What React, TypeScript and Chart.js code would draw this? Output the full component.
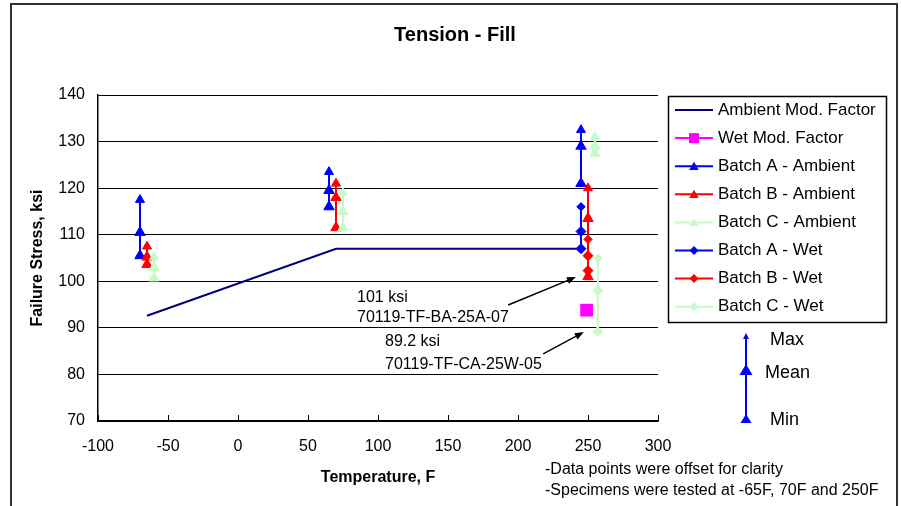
import React, { useEffect, useRef } from 'react';
import { Chart, registerables } from 'chart.js';

Chart.register(...registerables);

const FONT = '"Liberation Sans", Arial, Helvetica, sans-serif';

// ---------- data ----------
const xTicks = [-100, -50, 0, 50, 100, 150, 200, 250, 300];
const yTicks = [70, 80, 90, 100, 110, 120, 130, 140];

const ambientModX = [-65, 70, 245];
const ambientModY = [92.6, 107, 107];

const wetModX = [249];
const wetModY = [93.8];

const batchAAmbX = [-70, 65, 245];
const batchAAmbMax = [117.5, 123.5, 132.5];
const batchAAmbMean = [110.5, 119.5, 129];
const batchAAmbMin = [105.5, 116, 121];

const batchBAmbX = [-65, 70, 250];
const batchBAmbMax = [107.5, 121, 120];
const batchBAmbMean = [105.2, 118, 113.5];
const batchBAmbMin = [103.6, 111.5, 101];

const batchCAmbX = [-60, 75, 255];
const batchCAmbMax = [105.2, 119, 131];
const batchCAmbMean = [102.9, 115, 129];
const batchCAmbMin = [100.7, 111.5, 127.5];

const batchAWetX = [245];
const batchAWetMax = [116];
const batchAWetMean = [110.7];
const batchAWetMin = [107];

const batchBWetX = [250];
const batchBWetMax = [109];
const batchBWetMean = [105.5];
const batchBWetMin = [102.3];

const batchCWetX = [257];
const batchCWetMax = [105];
const batchCWetMean = [98];
const batchCWetMin = [89.2];

const seriesLabels = [
  'Ambient Mod. Factor',
  'Wet Mod. Factor',
  'Batch A - Ambient',
  'Batch B - Ambient',
  'Batch C - Ambient',
  'Batch A - Wet',
  'Batch B - Wet',
  'Batch C - Wet',
];

const annotationTexts = [
  ['101 ksi', '70119-TF-BA-25A-07'],
  ['89.2 ksi', '70119-TF-CA-25W-05'],
];
// annotation geometry in data units
const annotationGeo = [
  { tx: 85, ty: [96.6, 92.3], tailX: 193, tailY: 94.9, tipX: 241.4, tipY: 100.9 },
  { tx: 105, ty: [87.1, 82.2], tailX: 218, tailY: 84.4, tipX: 247, tipY: 89.1 },
];

const noteLines = ['-Data points were offset for clarity', '-Specimens were tested at -65F, 70F and 250F'];

// ---------- helpers ----------
function rangeData(xs: number[], max: number[], mean: number[], min: number[]) {
  const out: { x: number; y: number | null }[] = [];
  xs.forEach((x, i) => {
    out.push({ x, y: max[i] }, { x, y: mean[i] }, { x, y: min[i] }, { x, y: null });
  });
  return out;
}

const BLUE = '#0000FF';
const RED = '#FF0000';
const GREEN = '#C8FAC8';
const NAVY = '#000080';
const MAGENTA = '#FF00FF';

function rangeDataset(label: string, color: string, style: string, data: any[], baseR: number) {
  return {
    label,
    data,
    showLine: true,
    borderColor: color,
    backgroundColor: color,
    borderWidth: 2,
    pointStyle: style,
    pointRadius: (c: any) => (c.dataIndex % 4 === 0 ? baseR - 0.8 : baseR),
    pointBorderWidth: 1,
    spanGaps: false,
  };
}

function drawMarker(ctx: CanvasRenderingContext2D, style: string, x: number, y: number, r: number, color: string) {
  ctx.fillStyle = color;
  ctx.beginPath();
  if (style === 'triangle') {
    ctx.moveTo(x, y - r);
    ctx.lineTo(x + r * 0.866, y + r * 0.5);
    ctx.lineTo(x - r * 0.866, y + r * 0.5);
  } else if (style === 'rectRot') {
    ctx.moveTo(x, y - r);
    ctx.lineTo(x + r, y);
    ctx.lineTo(x, y + r);
    ctx.lineTo(x - r, y);
  } else if (style === 'rect') {
    ctx.rect(x - r, y - r, 2 * r, 2 * r);
  }
  ctx.closePath();
  ctx.fill();
}

const overlay = {
  id: 'overlay',
  beforeDraw(chart: any) {
    const ctx = chart.ctx;
    ctx.save();
    ctx.fillStyle = '#fff';
    ctx.fillRect(0, 0, chart.width, chart.height);
    ctx.restore();
  },
  afterDraw(chart: any) {
    const ctx: CanvasRenderingContext2D = chart.ctx;
    const xs = chart.scales.x;
    const ys = chart.scales.y;
    const area = chart.chartArea;
    ctx.save();

    // outer frame
    ctx.strokeStyle = '#333';
    ctx.lineWidth = 2;
    ctx.beginPath();
    ctx.moveTo(11, 506);
    ctx.lineTo(11, 4);
    ctx.lineTo(897, 4);
    ctx.lineTo(897, 506);
    ctx.stroke();

    // inward x tick marks
    ctx.strokeStyle = '#000';
    ctx.lineWidth = 1;
    ctx.beginPath();
    xTicks.forEach((v) => {
      const px = Math.round(xs.getPixelForValue(v)) + 0.5;
      ctx.moveTo(px, area.bottom);
      ctx.lineTo(px, area.bottom - 6);
    });
    ctx.stroke();

    ctx.fillStyle = '#000';
    // title
    ctx.font = `bold 20px ${FONT}`;
    ctx.textAlign = 'center';
    ctx.textBaseline = 'middle';
    ctx.fillText('Tension - Fill', 455, 35);

    // axis titles
    ctx.font = `bold 16px ${FONT}`;
    ctx.fillText('Temperature, F', (area.left + area.right) / 2, 478);
    ctx.save();
    ctx.translate(38, (area.top + area.bottom) / 2);
    ctx.rotate(-Math.PI / 2);
    ctx.fillText('Failure Stress, ksi', 0, 0);
    ctx.restore();

    // annotations
    ctx.font = `16px ${FONT}`;
    ctx.textAlign = 'left';
    annotationGeo.forEach((g, i) => {
      annotationTexts[i].forEach((t, j) => {
        ctx.fillText(t, xs.getPixelForValue(g.tx), ys.getPixelForValue(g.ty[j]));
      });
      const x1 = xs.getPixelForValue(g.tailX);
      const y1 = ys.getPixelForValue(g.tailY);
      const x2 = xs.getPixelForValue(g.tipX);
      const y2 = ys.getPixelForValue(g.tipY);
      const ang = Math.atan2(y2 - y1, x2 - x1);
      ctx.strokeStyle = '#000';
      ctx.lineWidth = 1.5;
      ctx.beginPath();
      ctx.moveTo(x1, y1);
      ctx.lineTo(x2 - 6 * Math.cos(ang), y2 - 6 * Math.sin(ang));
      ctx.stroke();
      ctx.beginPath();
      ctx.moveTo(x2, y2);
      ctx.lineTo(x2 - 9 * Math.cos(ang) + 3.5 * Math.sin(ang), y2 - 9 * Math.sin(ang) - 3.5 * Math.cos(ang));
      ctx.lineTo(x2 - 9 * Math.cos(ang) - 3.5 * Math.sin(ang), y2 - 9 * Math.sin(ang) + 3.5 * Math.cos(ang));
      ctx.closePath();
      ctx.fill();
    });

    // notes
    ctx.font = `16px ${FONT}`;
    noteLines.forEach((t, i) => ctx.fillText(t, 545, 470 + i * 21));

    // legend
    const lx = 668.5, ly = 96.5, lw = 218, lh = 226;
    ctx.strokeStyle = '#000';
    ctx.lineWidth = 1.5;
    ctx.strokeRect(lx, ly, lw, lh);
    ctx.font = `17px ${FONT}`;
    chart.data.datasets.forEach((ds: any, i: number) => {
      const cy = 110 + i * 28.1;
      ctx.strokeStyle = ds.borderColor;
      ctx.lineWidth = 2;
      ctx.beginPath();
      ctx.moveTo(675, cy);
      ctx.lineTo(713, cy);
      ctx.stroke();
      if (ds.pointStyle === 'rect') drawMarker(ctx, 'rect', 694, cy, 5, ds.backgroundColor);
      else if (ds.pointStyle === 'triangle') drawMarker(ctx, 'triangle', 694, cy + 1, 5.5, ds.backgroundColor);
      else if (ds.pointStyle === 'rectRot') drawMarker(ctx, 'rectRot', 694, cy, 4.5, ds.backgroundColor);
      ctx.fillStyle = '#000';
      ctx.textAlign = 'left';
      ctx.textBaseline = 'middle';
      ctx.fillText(ds.label, 718, cy);
    });

    // Max / Mean / Min key
    ctx.strokeStyle = BLUE;
    ctx.fillStyle = BLUE;
    ctx.lineWidth = 2;
    ctx.beginPath();
    ctx.moveTo(746, 336);
    ctx.lineTo(746, 421);
    ctx.stroke();
    const tri = (apex: number, h: number, w: number) => {
      ctx.beginPath();
      ctx.moveTo(746, apex);
      ctx.lineTo(746 + w / 2, apex + h);
      ctx.lineTo(746 - w / 2, apex + h);
      ctx.closePath();
      ctx.fill();
    };
    tri(333, 6, 6);
    tri(364, 11, 13);
    tri(414, 9, 11);
    ctx.fillStyle = '#000';
    ctx.font = `18px ${FONT}`;
    ctx.textAlign = 'left';
    ctx.fillText('Max', 770, 340);
    ctx.fillText('Mean', 765, 373);
    ctx.fillText('Min', 770, 420);

    ctx.restore();
  },
};

export default function App() {
  const ref = useRef<HTMLCanvasElement>(null);
  useEffect(() => {
    if (!ref.current) return;
    const datasets: any[] = [
      {
        label: seriesLabels[0],
        data: ambientModX.map((x, i) => ({ x, y: ambientModY[i] })),
        showLine: true,
        borderColor: NAVY,
        backgroundColor: NAVY,
        borderWidth: 2,
        pointRadius: 0,
        pointStyle: 'none',
      },
      {
        label: seriesLabels[1],
        data: wetModX.map((x, i) => ({ x, y: wetModY[i] })),
        showLine: false,
        borderColor: MAGENTA,
        backgroundColor: MAGENTA,
        pointStyle: 'rect',
        pointRadius: 9,
        pointBorderWidth: 0,
      },
      rangeDataset(seriesLabels[2], BLUE, 'triangle', rangeData(batchAAmbX, batchAAmbMax, batchAAmbMean, batchAAmbMin), 6),
      rangeDataset(seriesLabels[3], RED, 'triangle', rangeData(batchBAmbX, batchBAmbMax, batchBAmbMean, batchBAmbMin), 6),
      rangeDataset(seriesLabels[4], GREEN, 'triangle', rangeData(batchCAmbX, batchCAmbMax, batchCAmbMean, batchCAmbMin), 6),
      rangeDataset(seriesLabels[5], BLUE, 'rectRot', rangeData(batchAWetX, batchAWetMax, batchAWetMean, batchAWetMin), 5),
      rangeDataset(seriesLabels[6], RED, 'rectRot', rangeData(batchBWetX, batchBWetMax, batchBWetMean, batchBWetMin), 5),
      rangeDataset(seriesLabels[7], GREEN, 'rectRot', rangeData(batchCWetX, batchCWetMax, batchCWetMean, batchCWetMin), 5),
    ];
    datasets.forEach((d, i) => (d.order = 20 - i));

    const chart = new Chart(ref.current, {
      type: 'scatter',
      data: { datasets },
      options: {
        animation: false,
        responsive: false,
        events: [],
        layout: { padding: { top: 95, right: 901 - 658, bottom: 0, left: 0 } },
        plugins: { legend: { display: false }, tooltip: { enabled: false }, title: { display: false } },
        scales: {
          x: {
            type: 'linear',
            min: -100,
            max: 300,
            afterBuildTicks: (s: any) => {
              s.ticks = xTicks.map((v) => ({ value: v }));
            },
            afterFit: (s: any) => {
              s.height = 85;
            },
            ticks: { font: { family: FONT, size: 16 }, color: '#000', padding: 16, maxRotation: 0 },
            grid: { display: false, drawTicks: false },
            border: { display: true, color: '#000', width: 1.5 },
          },
          y: {
            type: 'linear',
            min: 70,
            max: 140,
            afterBuildTicks: (s: any) => {
              s.ticks = yTicks.map((v) => ({ value: v }));
            },
            afterFit: (s: any) => {
              s.width = 98;
            },
            ticks: { font: { family: FONT, size: 16 }, color: '#000', padding: 13 },
            grid: { display: true, color: '#000', lineWidth: 1, drawTicks: false },
            border: { display: true, color: '#000', width: 1.5 },
          },
        },
      },
      plugins: [overlay],
    } as any);
    return () => chart.destroy();
  }, []);
  return (
    <div style={{ position: 'fixed', left: 0, top: 0, width: 901, height: 506, background: '#fff' }}>
      <canvas ref={ref} width={901} height={506} style={{ display: 'block', width: 901, height: 506 }} />
    </div>
  );
}
